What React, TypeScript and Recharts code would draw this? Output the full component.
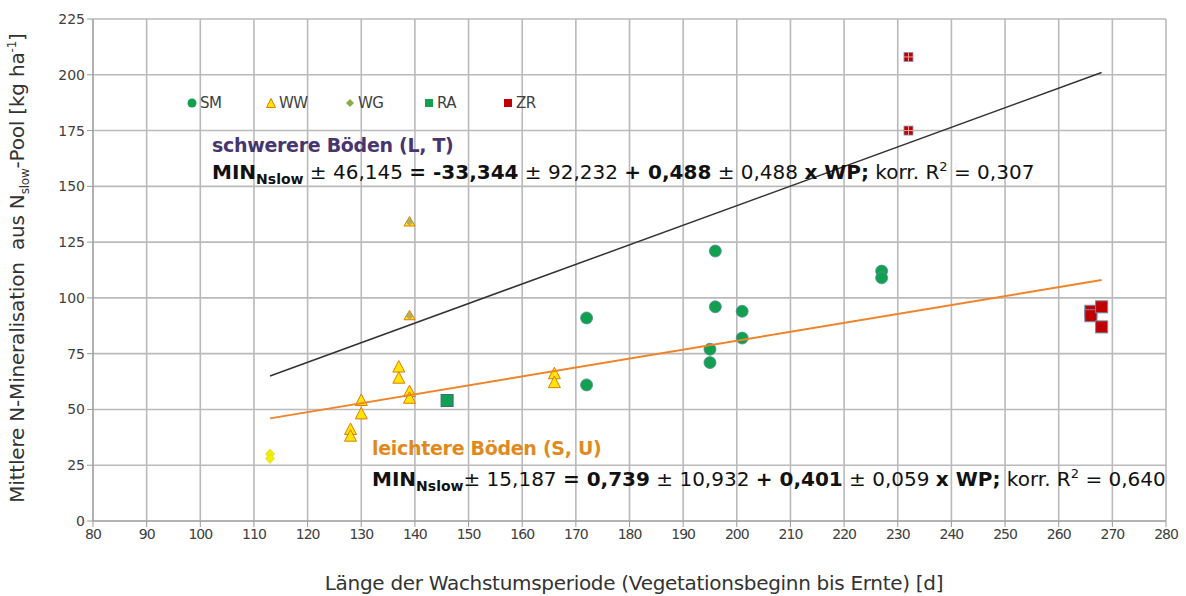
import React from "react";
import {
  ScatterChart,
  Scatter,
  XAxis,
  YAxis,
  ZAxis,
  CartesianGrid,
} from "recharts";

// Messpunkte je Kultur: [Länge der Wachstumsperiode, N-Mineralisation]
const smPoints = [
  { x: 172, y: 91 },
  { x: 172, y: 61 },
  { x: 195, y: 77 },
  { x: 195, y: 71 },
  { x: 196, y: 121 },
  { x: 196, y: 96 },
  { x: 201, y: 94 },
  { x: 201, y: 82 },
  { x: 227, y: 112 },
  { x: 227, y: 109 },
];
const wwPoints = [
  { x: 128, y: 41 },
  { x: 128, y: 38 },
  { x: 130, y: 54 },
  { x: 130, y: 48 },
  { x: 137, y: 69 },
  { x: 137, y: 64 },
  { x: 139, y: 58 },
  { x: 139, y: 55 },
  { x: 166, y: 66 },
  { x: 166, y: 62 },
];
const wwHeavyPoints = [
  { x: 139, y: 134 },
  { x: 139, y: 92 },
];
const wgPoints = [
  { x: 113, y: 30 },
  { x: 113, y: 28 },
];
const raPoints = [{ x: 146, y: 54 }];
const zrPoints = [
  { x: 266, y: 94 },
  { x: 266, y: 92 },
  { x: 268, y: 96 },
  { x: 268, y: 87 },
];
const zrHeavyPoints = [
  { x: 232, y: 208 },
  { x: 232, y: 175 },
];

// Trendlinien (Endpunkte)
const heavySoilTrend = [
  { x: 113, y: 65 },
  { x: 268, y: 201 },
];
const lightSoilTrend = [
  { x: 113, y: 46 },
  { x: 268, y: 108 },
];

const xTicks = [80, 90, 100, 110, 120, 130, 140, 150, 160, 170, 180, 190, 200, 210, 220, 230, 240, 250, 260, 270, 280];
const yTicks = [0, 25, 50, 75, 100, 125, 150, 175, 200, 225];

const legendItems = [
  { key: "SM", color: "#10a050", shape: "circle" },
  { key: "WW", color: "#ffe600", shape: "triangle" },
  { key: "WG", color: "#8aab45", shape: "diamond" },
  { key: "RA", color: "#10a050", shape: "square" },
  { key: "ZR", color: "#c00000", shape: "square" },
];

const FONT = "'DejaVu Sans', Verdana, sans-serif";
const GRID = "#bababa";

const Circle = (p: any) => (
  <circle cx={p.cx} cy={p.cy} r={6} fill="#10a050" stroke="#5a8a9a" strokeWidth={0.8} />
);
const Triangle = (p: any) => (
  <path
    d={`M${p.cx},${p.cy - 6.5} L${p.cx + 6},${p.cy + 5} L${p.cx - 6},${p.cy + 5} Z`}
    fill="#ffe600"
    stroke="#e07a10"
    strokeWidth={1}
  />
);
const SmallTriangle = (p: any) => (
  <g>
    <path
      d={`M${p.cx},${p.cy - 5.5} L${p.cx + 5.5},${p.cy + 4} L${p.cx - 5.5},${p.cy + 4} Z`}
      fill="#ffe600"
      stroke="#e07a10"
      strokeWidth={1}
    />
    <path
      d={`M${p.cx},${p.cy - 4} L${p.cx + 4},${p.cy} L${p.cx},${p.cy + 4} L${p.cx - 4},${p.cy} Z`}
      fill="#a0a070"
      opacity={0.8}
    />
  </g>
);
const Diamond = (p: any) => (
  <path
    d={`M${p.cx},${p.cy - 5} L${p.cx + 4.5},${p.cy} L${p.cx},${p.cy + 5} L${p.cx - 4.5},${p.cy} Z`}
    fill="#f2f000"
    stroke="#d8e020"
    strokeWidth={0.8}
  />
);
const RaSquare = (p: any) => (
  <rect x={p.cx - 6} y={p.cy - 6} width={12} height={12} fill="#10a050" stroke="#3a6a80" strokeWidth={1} />
);
const ZrSquare = (p: any) => (
  <rect x={p.cx - 6} y={p.cy - 6} width={12} height={12} fill="#c00000" stroke="#6a8aa8" strokeWidth={1} />
);
const ZrSmallSquare = (p: any) => (
  <g>
    <rect x={p.cx - 4.5} y={p.cy - 4.5} width={9} height={9} fill="#c00000" stroke="#7a9ab8" strokeWidth={0.8} />
    <line x1={p.cx} y1={p.cy - 4.5} x2={p.cx} y2={p.cy + 4.5} stroke="#e8a0a0" strokeWidth={1} />
    <line x1={p.cx - 4.5} y1={p.cy} x2={p.cx + 4.5} y2={p.cy} stroke="#e8a0a0" strokeWidth={1} />
  </g>
);
const NoDot = () => null;

const LegendMarker = ({ shape, color }: { shape: string; color: string }) => {
  if (shape === "circle") return <svg width={12} height={12}><circle cx={6} cy={6} r={4.5} fill={color} /></svg>;
  if (shape === "triangle")
    return (
      <svg width={12} height={12}>
        <path d="M6,1.5 L10.5,10.5 L1.5,10.5 Z" fill={color} stroke="#e07a10" strokeWidth={1} />
      </svg>
    );
  if (shape === "diamond")
    return <svg width={12} height={12}><path d="M6,2 L10,6 L6,10 L2,6 Z" fill={color} /></svg>;
  return <svg width={12} height={12}><rect x={2} y={2} width={8} height={8} fill={color} /></svg>;
};

const eqStyle: React.CSSProperties = {
  position: "absolute",
  fontFamily: FONT,
  fontSize: 20,
  color: "#111",
  whiteSpace: "nowrap",
  letterSpacing: 0,
};

export default function App() {
  return (
    <div style={{ position: "absolute", left: 0, top: 0, width: 1186, height: 596, background: "#fff" }}>
      <ScatterChart width={1186} height={596} margin={{ top: 19, right: 20, bottom: 0, left: 0 }}>
        <CartesianGrid stroke={GRID} strokeWidth={1.6} />
        <XAxis
          type="number"
          dataKey="x"
          domain={[80, 280]}
          ticks={xTicks}
          interval={0}
          height={75}
          stroke="#9a9a9a"
          tickSize={6}
          tick={{ fill: "#404040", fontSize: 14, fontFamily: FONT, letterSpacing: -1 }}
        />
        <YAxis
          type="number"
          dataKey="y"
          domain={[0, 225]}
          ticks={yTicks}
          interval={0}
          width={93}
          stroke="#9a9a9a"
          tickSize={6}
          tick={{ fill: "#404040", fontSize: 14, fontFamily: FONT }}
        />
        <ZAxis range={[100, 100]} />
        <Scatter name="SM" data={smPoints} shape={Circle} isAnimationActive={false} />
        <Scatter name="WW" data={wwPoints} shape={Triangle} isAnimationActive={false} />
        <Scatter name="WW schwer" data={wwHeavyPoints} shape={SmallTriangle} isAnimationActive={false} />
        <Scatter name="WG" data={wgPoints} shape={Diamond} isAnimationActive={false} />
        <Scatter name="RA" data={raPoints} shape={RaSquare} isAnimationActive={false} />
        <Scatter name="ZR" data={zrPoints} shape={ZrSquare} isAnimationActive={false} />
        <Scatter name="ZR schwer" data={zrHeavyPoints} shape={ZrSmallSquare} isAnimationActive={false} />
        <Scatter
          name="schwer"
          data={heavySoilTrend}
          line={{ stroke: "#333333", strokeWidth: 1.5 }}
          shape={NoDot}
          isAnimationActive={false}
        />
        <Scatter
          name="leicht"
          data={lightSoilTrend}
          line={{ stroke: "#f0842a", strokeWidth: 2 }}
          shape={NoDot}
          isAnimationActive={false}
        />
      </ScatterChart>

      {/* Legende im Diagrammbereich */}
      <div
        style={{
          position: "absolute",
          top: 94,
          left: 186,
          display: "flex",
          fontFamily: FONT,
          fontSize: 15,
          color: "#404040",
        }}
      >
        {legendItems.map((it) => (
          <div key={it.key} style={{ display: "flex", alignItems: "center", width: 79 }}>
            <LegendMarker shape={it.shape} color={it.color} />
            <span style={{ marginLeft: 2, letterSpacing: -0.5 }}>{it.key}</span>
          </div>
        ))}
      </div>

      {/* Achsentitel */}
      <div
        style={{
          position: "absolute",
          left: 18,
          top: 268,
          transform: "translate(-50%, -50%) rotate(-90deg)",
          fontFamily: FONT,
          fontSize: 20,
          color: "#333",
          whiteSpace: "nowrap",
          letterSpacing: -0.2,
        }}
      >
        Mittlere N-Mineralisation&nbsp; aus N<sub style={{ fontSize: 12 }}>slow</sub>-Pool [kg ha<sup style={{ fontSize: 12 }}>-1</sup>]
      </div>
      <div
        style={{
          position: "absolute",
          left: 634,
          top: 583,
          transform: "translate(-50%, -50%)",
          fontFamily: FONT,
          fontSize: 20,
          color: "#333",
          whiteSpace: "nowrap",
          letterSpacing: -0.3,
        }}
      >
        Länge der Wachstumsperiode (Vegetationsbeginn bis Ernte) [d]
      </div>

      {/* Regressionsgleichungen */}
      <div style={{ ...eqStyle, left: 212, top: 134, fontSize: 19, fontWeight: "bold", color: "#47366e", letterSpacing: -0.3 }}>
        schwerere Böden (L, T)
      </div>
      <div style={{ ...eqStyle, left: 212, top: 159 }}>
        <b>
          MIN<sub style={{ fontSize: 14 }}>Nslow</sub>
        </b>{" "}
        ± 46,145 <b>= -33,344</b> ± 92,232 <b>+ 0,488</b> ± 0,488 <b>x WP;</b> korr. R<sup style={{ fontSize: 13 }}>2</sup> = 0,307
      </div>
      <div style={{ ...eqStyle, left: 372, top: 437, fontSize: 19, fontWeight: "bold", color: "#e08a1e", letterSpacing: -0.3 }}>
        leichtere Böden (S, U)
      </div>
      <div style={{ ...eqStyle, left: 372, top: 466 }}>
        <b>
          MIN<sub style={{ fontSize: 14 }}>Nslow</sub>
        </b>
        ± 15,187 <b>= 0,739</b> ± 10,932 <b>+ 0,401</b> ± 0,059 <b>x WP;</b> korr. R<sup style={{ fontSize: 13 }}>2</sup> = 0,640
      </div>
    </div>
  );
}
